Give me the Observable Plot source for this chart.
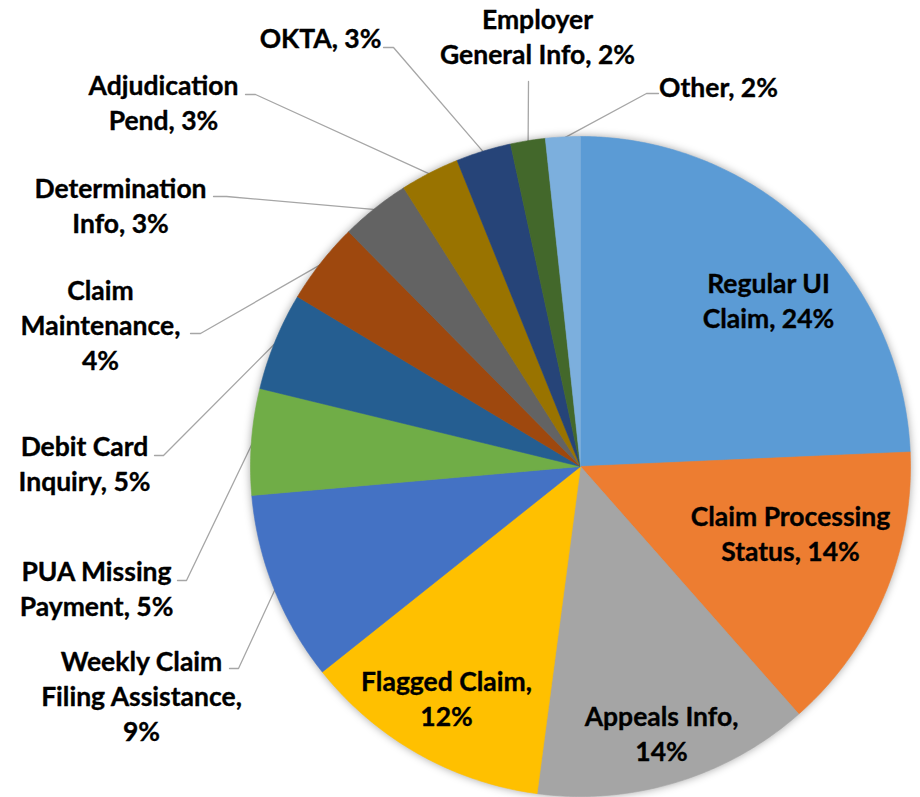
<!DOCTYPE html>
<html><head><meta charset="utf-8">
<script src="https://cdn.jsdelivr.net/npm/d3@7"></script>
<script src="https://cdn.jsdelivr.net/npm/@observablehq/plot@0.6"></script>
<style>html,body{margin:0;padding:0;background:#fff}#chart svg{display:block}</style>
</head><body><div id="chart"></div>
<script>
// ---- data ----
const categories = ["Regular UI Claim","Claim Processing Status","Appeals Info","Flagged Claim","Weekly Claim Filing Assistance","PUA Missing Payment","Debit Card Inquiry","Claim Maintenance","Determination Info","Adjudication Pend","OKTA","Employer General Info","Other"];
const shares = [24.3, 14.2, 13.6, 12.2, 9.3, 5.2, 4.8, 4.0, 3.4, 2.9, 2.7, 1.7, 1.7];
const labelNames = ["Regular UI\nClaim","Claim Processing\nStatus","Appeals Info","Flagged Claim","Weekly Claim\nFiling Assistance","PUA Missing\nPayment","Debit Card\nInquiry","Claim\nMaintenance","Determination\nInfo","Adjudication\nPend","OKTA","Employer\nGeneral Info","Other"];
const pctBreak = [" "," ","\n","\n","\n"," "," ","\n"," "," "," "," "," "];
const colors = ["#5B9BD5","#ED7D31","#A5A5A5","#FFC000","#4472C4","#70AD47","#255E91","#9E480E","#636363","#997300","#264478","#43682B","#7CAFDD"];

// ---- layout (pixels in the 920x797 frame) ----
const W = 920, H = 797, CX = 580, CY = 466, R = 330;
const labelCenters = [[768,299],[790,532],[661,732],[446,697],[141,694],[96,587],[84,462],[100,323],[120,204],[163,101],[320,36],[537,35],[718,85]];
const leaderEnds = [null,null,null,null,[229,668,238,668],[177,580,186,580],[154,455,163,455],[190,333,200,333],[213,196,226,196],[245,94,255,94],[383,47,393,47],[528,81,528,81],[658,93,646,93]];

const toX = px => (px - CX) / R;
const toY = py => (CY - py) / R;

const total = d3.sum(shares);
let acc = 0;
const slices = categories.map((c, i) => {
  const a0 = acc / total * 2 * Math.PI; acc += shares[i];
  const a1 = acc / total * 2 * Math.PI;
  return {c, i, a0, a1, mid: (a0 + a1) / 2};
});

const piePts = [];
for (const s of slices) {
  piePts.push({c: s.c, x: 0, y: 0});
  const n = Math.max(2, Math.ceil((s.a1 - s.a0) / (Math.PI / 360)));
  for (let k = 0; k <= n; k++) {
    const a = s.a0 + (s.a1 - s.a0) * k / n;
    piePts.push({c: s.c, x: Math.sin(a), y: Math.cos(a)});
  }
  piePts.push({c: s.c, x: 0, y: 0});
}

const labels = slices.map(s => ({
  c: s.c,
  x: toX(labelCenters[s.i][0]), y: toY(labelCenters[s.i][1]),
  text: labelNames[s.i] + "," + pctBreak[s.i] + Math.round(shares[s.i]) + "%"
}));

const leaderPts = [];
for (const s of slices) {
  const e = leaderEnds[s.i];
  if (!e) continue;
  leaderPts.push({c: s.c, x: toX(e[0]), y: toY(e[1])});
  leaderPts.push({c: s.c, x: toX(e[2]), y: toY(e[3])});
  leaderPts.push({c: s.c, x: 0.995 * Math.sin(s.mid), y: 0.995 * Math.cos(s.mid)});
}

const chart = Plot.plot({
  width: W, height: H, margin: 0,
  x: {domain: [toX(0), toX(W)], axis: null},
  y: {domain: [toY(H), toY(0)], axis: null},
  color: {domain: categories, range: colors},
  style: {background: "#fff", fontFamily: "Lato, 'Open Sans', sans-serif"},
  marks: [
    Plot.line(leaderPts, {x: "x", y: "y", z: "c", stroke: "#a6a6a6", strokeWidth: 1.3, curve: "linear"}),
    Plot.line(piePts, {x: "x", y: "y", z: "c", fill: "c", stroke: "c", strokeWidth: 0.6, curve: "linear"}),
    Plot.text(labels, {x: "x", y: "y", text: "text", textAnchor: "middle", lineAnchor: "middle", lineHeight: 1.32, fontSize: 26.5, fontWeight: 700, fill: "#000", stroke: "#000", strokeWidth: 0.35})
  ]
});
const groups = chart.querySelectorAll('g[aria-label="line"]');
if (groups[1]) groups[1].style.filter = "drop-shadow(0px 0px 4px rgba(0,0,0,0.35))";
document.getElementById("chart").appendChild(chart);
</script>
</body></html>
